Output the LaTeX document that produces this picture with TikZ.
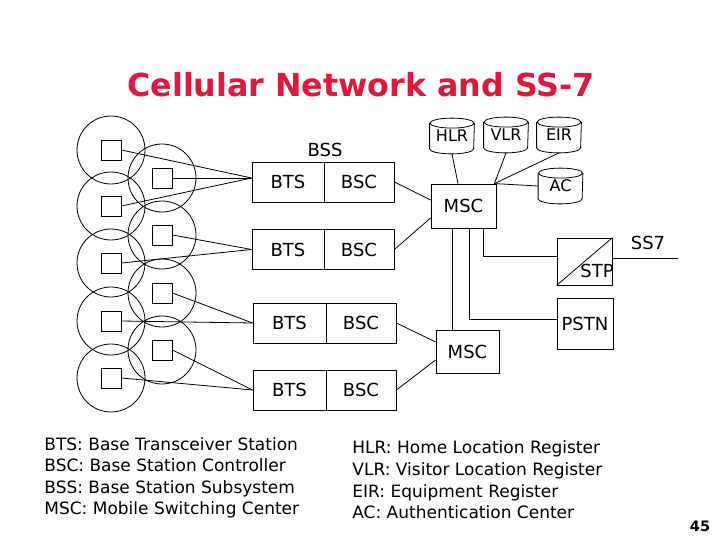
\documentclass[tikz,border=0pt]{standalone}
\usepackage{fontspec}
\setmainfont{DejaVu Sans}
\usetikzlibrary{calc}
\definecolor{titlered}{RGB}{228,22,58}
\newcommand\mydbshape[1]{%
  \draw ([yshift=-5pt]#1.north west) -- ([yshift=5pt]#1.south west)
    arc[start angle=180,end angle=360,x radius=22pt,y radius=5pt]
    -- ([yshift=-5pt]#1.north east);
  \draw ([yshift=-5pt]#1.north) ellipse [x radius=22pt, y radius=5pt];}
\begin{document}
\begin{tikzpicture}[x=1pt,y=-1pt,line width=0.8pt,
  cell/.style={circle,draw,minimum size=68pt,inner sep=0pt},
  ant/.style={rectangle,draw,minimum size=20pt,inner sep=0pt},
  half/.style={rectangle,draw,minimum height=40pt,inner sep=0pt,font=\fontsize{18}{20}\selectfont},
  dbnode/.style={rectangle,minimum width=44pt,minimum height=35pt,inner sep=0pt,font=\fontsize{16}{18}\selectfont},
  sysbox/.style={rectangle,draw,inner sep=0pt,font=\fontsize{18}{20}\selectfont},
  lbl/.style={inner sep=0pt,font=\fontsize{18}{20}\selectfont},
  legend/.style={anchor=base west,inner sep=0pt,font=\fontsize{17}{20}\selectfont}]
\useasboundingbox (0,0) rectangle (720,540);

% title
\node[anchor=base,inner sep=0pt,text=titlered,font=\fontsize{31.7}{34}\selectfont\bfseries] (title) at (361,97) {Cellular Network and SS-7};

% cells
\foreach \i/\y in {1/150,2/206,3/263,4/321,5/378}{
  \node[cell] (cL\i) at (111,\y) {};
  \node[ant] (sL\i) at (111,\y) {};
}
\foreach \i/\y in {1/178,2/235,3/293,4/350}{
  \node[cell] (cR\i) at (162,\y) {};
  \node[ant] (sR\i) at (162,\y) {};
}

% BTS / BSC
\node[lbl] (bss) at (325,150) {BSS};
\node[half,minimum width=72pt] (bts1) at (288,182) {BTS};
\node[half,minimum width=70pt] (bsc1) at (359,182) {BSC};
\node[half,minimum width=72pt] (bts2) at (288,249.5) {BTS};
\node[half,minimum width=70pt] (bsc2) at (359,249.5) {BSC};
\node[half,minimum width=73pt] (bts3) at (289.5,323) {BTS};
\node[half,minimum width=70pt] (bsc3) at (361,323) {BSC};
\node[half,minimum width=73pt] (bts4) at (289.5,390) {BTS};
\node[half,minimum width=70pt] (bsc4) at (361,390) {BSC};

% antennas to BTS
\draw (sL1.east) -- ([yshift=4pt]bts1.west);
\draw (sR1.east) -- ([yshift=4pt]bts1.west);
\draw (sL2.east) -- ([yshift=4pt]bts1.west);
\draw (sR2.east) -- (bts2.west);
\draw (sL3.east) -- (bts2.west);
\draw (sR3.east) -- (bts3.west);
\draw (sL4.east) -- (bts3.west);
\draw (sR4.east) -- (bts4.west);
\draw (sL5.east) -- (bts4.west);

% MSCs
\node[sysbox,minimum width=65pt,minimum height=44pt] (msc1) at (463.5,206) {MSC};
\node[sysbox,minimum width=63pt,minimum height=43pt] (msc2) at (467.5,351.5) {MSC};
\draw (bsc1.east) -- ([yshift=6pt]msc1.west);
\draw (bsc2.east) -- ([yshift=-12pt]msc1.west);
\draw (bsc3.east) -- ([yshift=9.5pt]msc2.west);
\draw (bsc4.east) -- ([yshift=-8.5pt]msc2.west);

% databases
\node[dbnode] (hlr) at (452,136) {HLR};
\node[dbnode] (vlr) at (506,135) {VLR};
\node[dbnode] (eir) at (559,135) {EIR};
\node[dbnode] (ac) at (560.5,186) {AC};
\mydbshape{hlr}\mydbshape{vlr}\mydbshape{eir}\mydbshape{ac}
\coordinate (hub) at ([xshift=-2pt]msc1.north east);
\draw (hlr.south) -- ([xshift=-5.5pt]msc1.north);
\draw (vlr.south) -- (hub);
\draw (eir.south) -- (hub);
\draw (ac.west) -- (hub);

% STP, PSTN
\node[sysbox,minimum width=55pt,minimum height=47pt] (stp) at (584.5,261.5) {};
\draw (stp.south west) -- (stp.north east);
\node[lbl] (stptext) at (597,271) {STP};
\node[sysbox,minimum width=56pt,minimum height=51pt] (pstn) at (585,323.5) {PSTN};
\coordinate (trunk) at ([xshift=-11.5pt]msc1.south);
\draw (trunk) -- (trunk |- msc2.north);
\draw ([xshift=5.5pt]msc1.south) |- ([yshift=4.5pt]pstn.west);
\draw ([xshift=19.5pt]msc1.south) |- ([yshift=5.5pt]stp.west);
\coordinate (ss7end) at (678,258);
\draw ([yshift=3.5pt]stp.east) -- (ss7end);
\node[lbl] (ss7) at (648,243) {SS7};

% legends
\node[legend] (lg1) at (44,450) {BTS: Base Transceiver Station};
\node[legend] (lg2) at (44,471) {BSC: Base Station Controller};
\node[legend] (lg3) at (44,493) {BSS: Base Station Subsystem};
\node[legend] (lg4) at (44,514) {MSC: Mobile Switching Center};
\node[legend] (lg5) at (352,453) {HLR: Home Location Register};
\node[legend] (lg6) at (352,475) {VLR: Visitor Location Register};
\node[legend] (lg7) at (352,497) {EIR: Equipment Register};
\node[legend] (lg8) at (352,518) {AC: Authentication Center};

\node[anchor=base,inner sep=0pt,font=\fontsize{14.4}{16}\selectfont\bfseries] (pg) at (700,531) {45};
\end{tikzpicture}
\end{document}
